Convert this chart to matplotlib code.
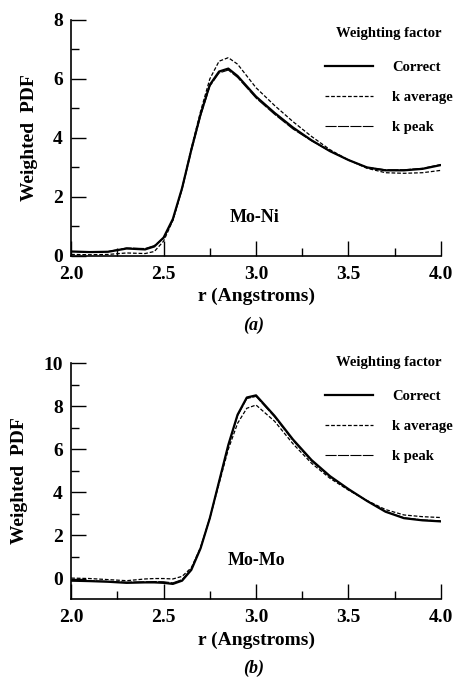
import matplotlib
matplotlib.use("Agg")
import matplotlib.pyplot as plt
from matplotlib.ticker import MultipleLocator

plt.rcParams['font.family'] = ['Liberation Serif', 'DejaVu Serif']
plt.rcParams['font.weight'] = 'bold'

# distancia r (Angstroms), grade comum as duas curvas
r = [2.0, 2.1, 2.2, 2.3, 2.4, 2.45, 2.5, 2.55, 2.6, 2.65, 2.7, 2.75, 2.8, 2.85,
     2.9, 2.95, 3.0, 3.1, 3.2, 3.3, 3.4, 3.5, 3.6, 3.7, 3.8, 3.9, 4.0]

# (a) Mo-Ni
moni_correct = [0.15, 0.13, 0.14, 0.25, 0.22, 0.32, 0.62, 1.25, 2.3, 3.6, 4.8, 5.8, 6.25, 6.35,
                6.1, 5.75, 5.4, 4.85, 4.35, 3.92, 3.55, 3.25, 3.0, 2.9, 2.9, 2.95, 3.08]
moni_kavg = [0.05, 0.04, 0.05, 0.1, 0.08, 0.15, 0.5, 1.2, 2.3, 3.65, 4.9, 6.0, 6.6, 6.72,
             6.5, 6.1, 5.7, 5.1, 4.55, 4.05, 3.6, 3.25, 2.97, 2.82, 2.8, 2.82, 2.9]
moni_kpeak = [0.15, 0.13, 0.15, 0.27, 0.25, 0.35, 0.6, 1.2, 2.25, 3.55, 4.75, 5.75, 6.2, 6.3,
              6.05, 5.7, 5.35, 4.8, 4.3, 3.9, 3.55, 3.25, 3.0, 2.92, 2.92, 2.97, 3.1]

# (b) Mo-Mo
momo_correct = [-0.1, -0.12, -0.15, -0.2, -0.18, -0.18, -0.2, -0.25, -0.1, 0.4, 1.4, 2.8, 4.5, 6.2,
                7.6, 8.4, 8.5, 7.55, 6.45, 5.5, 4.75, 4.15, 3.6, 3.1, 2.8, 2.7, 2.65]
momo_kavg = [0.02, 0.0, -0.05, -0.1, -0.02, 0.0, 0.0, -0.02, 0.1, 0.5, 1.45, 2.8, 4.4, 6.0,
             7.2, 7.9, 8.05, 7.3, 6.25, 5.35, 4.65, 4.1, 3.62, 3.2, 2.95, 2.87, 2.83]
momo_kpeak = [-0.08, -0.1, -0.13, -0.17, -0.15, -0.14, -0.15, -0.2, -0.05, 0.45, 1.42, 2.8, 4.5, 6.15,
              7.55, 8.35, 8.45, 7.5, 6.4, 5.45, 4.72, 4.13, 3.6, 3.12, 2.82, 2.72, 2.68]

rotulos = ['Correct', 'k average', 'k peak']

fig = plt.figure(figsize=(4.56, 6.77), dpi=100)
ax1 = fig.add_axes([0.156, 0.622, 0.811, 0.3486])
ax2 = fig.add_axes([0.156, 0.1152, 0.811, 0.3486])


def desenha(ax, correct, kavg, kpeak, ylim, nome, xy_nome, letra, y_letra, y_leg):
    ax.plot(r, correct, color='black', lw=1.6, label=rotulos[0])
    ax.plot(r, kavg, color='black', lw=0.9, dashes=(3, 1.5), label=rotulos[1])
    ax.plot(r, kpeak, color='black', lw=0.8, dashes=(10, 1.2), label=rotulos[2])
    ax.set_xlim(2.0, 4.0)
    ax.set_ylim(*ylim)
    ax.spines['top'].set_visible(False)
    ax.spines['right'].set_visible(False)
    ax.spines['left'].set_linewidth(1.2)
    ax.spines['bottom'].set_linewidth(1.2)
    ax.xaxis.set_major_locator(MultipleLocator(0.5))
    ax.xaxis.set_minor_locator(MultipleLocator(0.25))
    ax.yaxis.set_major_locator(MultipleLocator(2))
    ax.yaxis.set_minor_locator(MultipleLocator(1))
    ax.xaxis.set_major_formatter(plt.FormatStrFormatter('%.1f'))
    ax.tick_params(which='both', direction='in', labelsize=14, width=1.0)
    ax.tick_params(which='major', length=11)
    ax.tick_params(which='minor', length=6)
    ax.tick_params(axis='x', pad=7)
    ax.tick_params(axis='y', pad=6)
    ax.set_xlabel('r (Angstroms)', fontsize=14, fontweight='bold', labelpad=4)
    ax.set_ylabel('Weighted  PDF', fontsize=14, fontweight='bold', labelpad=11)
    ax.text(xy_nome[0], xy_nome[1], nome, fontsize=13, fontweight='bold',
            ha='center', va='center')
    leg = ax.legend(loc='upper left', bbox_to_anchor=(0.686, y_leg), frameon=False,
                    title='Weighting factor', fontsize=10.5, title_fontsize=10.5,
                    handlelength=3.3, handletextpad=1.3, labelspacing=1.15,
                    borderpad=0, borderaxespad=0)
    leg.get_title().set_fontweight('bold')
    leg._legend_box.sep = 15
    fig.text(0.557, y_letra, letra, fontsize=13, fontweight='bold', style='italic',
             ha='center', va='center')


desenha(ax1, moni_correct, moni_kavg, moni_kpeak, (0, 8), 'Mo-Ni', (2.99, 1.3), '(a)', 0.52, 0.97)
desenha(ax2, momo_correct, momo_kavg, momo_kpeak, (-0.95, 10), 'Mo-Mo', (3.0, 0.83), '(b)', 0.013, 1.03)

fig.savefig('out.png', dpi=100)
